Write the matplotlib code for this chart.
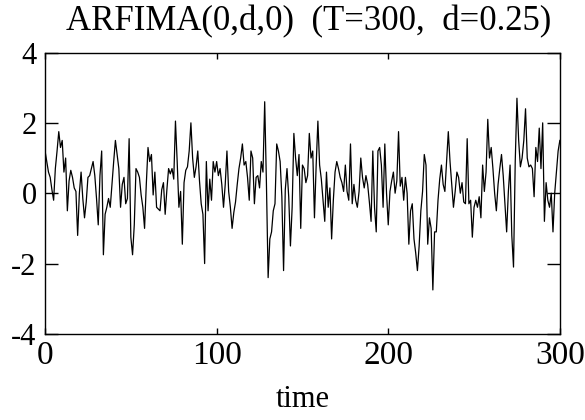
import numpy as np
import matplotlib
matplotlib.use("Agg")
import matplotlib.pyplot as plt

# ARFIMA(0,d,0) sample path (t = 0..300)
series = [
    1.2, 0.9, 0.6, 0.45, 0.1, -0.2, 0.7, 1.2, 1.75, 1.3,
    1.5, 0.6, 1.0, -0.5, 0.35, 0.65, 0.45, 0.15, 0.05, -1.2,
    0.0, 0.6, -0.15, -0.7, -0.25, 0.45, 0.5, 0.7, 0.9, 0.5,
    -0.15, -0.9, 0.5, 1.2, -1.75, -0.6, -0.4, -0.15, -0.4, 0.25,
    0.9, 1.5, 1.1, 0.7, -0.4, 0.25, 0.45, -0.3, -0.15, 1.55,
    -1.25, -1.75, -0.9, 0.7, 0.6, 0.45, -0.05, -0.4, -1.0, 0.25,
    1.3, 0.9, 1.1, -0.05, 0.6, -0.4, -0.45, -0.5, 0.1, 0.3,
    -0.6, 0.1, 0.7, 0.55, 0.7, 0.4, 2.05, 0.9, -0.4, 0.05,
    -1.45, 0.3, 0.65, 0.75, 1.2, 2.0, 1.0, 0.45, 0.75, 1.2,
    0.35, -0.3, -0.6, -2.0, 0.9, -0.5, 0.4, -0.2, 0.9, 0.6,
    0.9, 0.5, 0.7, 0.25, -0.4, 0.25, 1.2, 0.05, -0.4, -1.0,
    -0.55, -0.25, 0.25, 0.7, 1.0, 1.4, 0.8, 0.9, 0.45, -0.2,
    1.2, 1.0, -0.3, 0.45, 0.5, 0.15, 0.9, 0.6, 2.6, 0.3,
    -2.4, -1.3, -1.1, -0.5, -0.3, 1.4, 1.2, 0.9, -0.1, -2.2,
    0.1, 0.7, -0.1, -1.5, -0.4, 1.7, 1.0, 0.5, 1.1, -1.0,
    0.8, 0.7, 0.3, 0.5, 1.7, 1.0, 1.2, -0.7, 0.8, 2.05,
    0.8, 0.4, -0.2, -0.8, 0.6, -0.4, 0.15, -1.3, -0.2, 0.6,
    0.9, 0.7, 0.45, 0.3, 0.05, 0.8, 0.05, -0.2, 1.4, -0.3,
    0.25, -0.2, -0.4, 0.05, 1.0, 0.45, 0.15, 0.5, 0.25, -0.25,
    -0.8, 1.2, -0.4, -1.1, 1.2, 1.3, 0.8, -0.4, 1.4, 0.0,
    -0.9, 0.05, 0.35, 0.6, 0.0, 0.35, 1.75, 0.2, 0.45, -0.2,
    0.45, 0.0, -1.45, -0.5, -0.3, -1.3, -1.7, -2.2, -1.5, -0.5,
    0.05, 1.1, 0.8, -1.45, -0.7, -1.0, -2.75, -1.1, -1.1, -0.2,
    0.4, 0.8, 0.25, 0.05, 0.9, 1.75, 0.9, 0.25, -0.4, 0.05,
    0.6, 0.45, 0.0, 0.3, -0.25, -0.3, 1.55, -0.3, -0.2, -1.25,
    -0.4, -0.2, -0.4, -0.1, -0.7, 0.8, 0.05, 0.6, 2.1, 1.0,
    1.3, 0.7, 0.0, -0.5, 0.25, 0.7, 1.1, 0.5, -0.3, -1.1,
    0.05, 0.8, -1.2, -2.1, 0.9, 2.7, 1.5, 0.75, 1.0, 1.5,
    2.4, 1.0, 0.75, 0.8, 0.7, -0.1, 1.3, 0.9, 1.85, 0.7,
    2.0, -0.8, 0.3, -0.2, -0.4, 0.0, -1.1, 0.0, 0.6, 1.2, 1.5,
]
x_ticks = [0, 100, 200, 300]
y_ticks = [-4, -2, 0, 2, 4]
title = "ARFIMA(0,d,0)  (T=300,  d=0.25)"

plt.rcParams["font.family"] = ["Liberation Serif", "DejaVu Serif"]
plt.rcParams["axes.unicode_minus"] = False

fig = plt.figure(figsize=(5.85, 4.2), dpi=100)
ax = fig.add_axes([0.077, 0.205, 0.88, 0.67])

t = np.arange(len(series))
ax.plot(t, series, color="black", linewidth=0.9)

ax.set_xlim(0, 300)
ax.set_ylim(-4, 4)
ax.set_xticks(x_ticks)
ax.set_yticks(y_ticks)
ax.tick_params(axis="y", direction="in", length=9.5, width=1.0,
               left=True, right=True, labelsize=22, pad=6)
ax.tick_params(axis="x", direction="in", length=4.5, width=1.0,
               top=True, bottom=True, labelsize=24, pad=5)
for s in ax.spines.values():
    s.set_linewidth(1.0)

ax.set_xlabel("time", fontsize=22, labelpad=10)
fig.text(0.527, 1 - 22 / 420, title, fontsize=25, ha="center", va="center")

fig.savefig("out.png", dpi=100)
